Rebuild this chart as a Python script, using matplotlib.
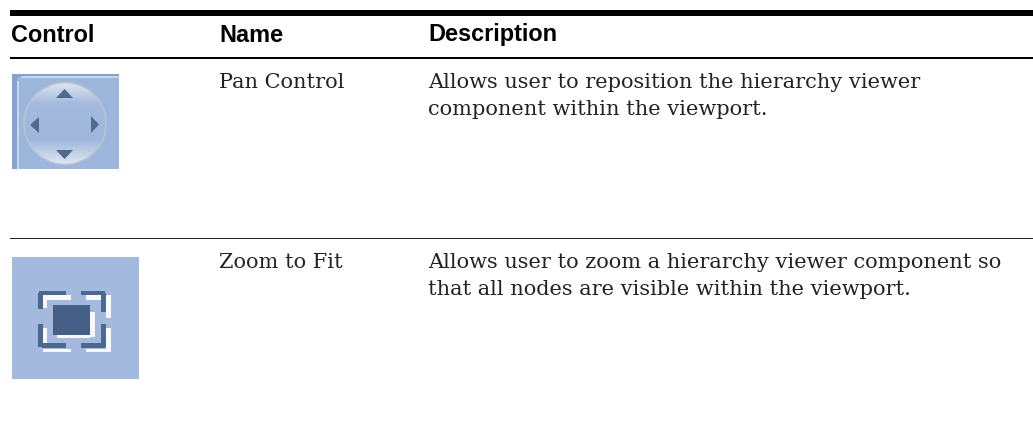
import matplotlib
matplotlib.use('Agg')
import matplotlib.pyplot as plt
import numpy as np
from matplotlib.patches import Circle, Polygon, Rectangle

headers = ['Control', 'Name', 'Description']
names = ['Pan Control', 'Zoom to Fit']
descriptions = [
    ['Allows user to reposition the hierarchy viewer', 'component within the viewport.'],
    ['Allows user to zoom a hierarchy viewer component so', 'that all nodes are visible within the viewport.'],
]

fig = plt.figure(figsize=(10.33, 4.4), dpi=100)
ax = fig.add_axes([0, 0, 1, 1])

# --- rules ---
ax.add_patch(Rectangle((10, 10), 1023, 6, color='black', lw=0))
ax.add_patch(Rectangle((10, 57), 1023, 2, color='black', lw=0))
ax.add_patch(Rectangle((10, 238), 1023, 1.2, color='#222222', lw=0))

# --- text ---
for x, h in zip([11, 219, 428], headers):
    ax.text(x, 41.5, h, family='Liberation Sans', weight='bold', fontsize=16.9,
            color='black', va='baseline')
for y, n, d in zip([88, 268], names, descriptions):
    ax.text(219, y, n, family='DejaVu Serif', fontsize=15, color='#222222', va='baseline')
    ax.text(428, y, d[0], family='DejaVu Serif', fontsize=15, color='#222222', va='baseline')
    ax.text(428, y + 27, d[1], family='DejaVu Serif', fontsize=15, color='#222222', va='baseline')

# --- pan icon ---
ax.add_patch(Rectangle((12, 74), 107, 95, color='#9db6db', lw=0))
ax.add_patch(Rectangle((12, 74), 5, 95, color='#84a3d2', lw=0))
ax.add_patch(Rectangle((12, 74), 107, 3, color='#84a3d2', lw=0))
ax.plot([18, 18], [169, 82], color='#d5e0f0', lw=1.2)
ax.plot([22, 119], [77.5, 77.5], color='#d5e0f0', lw=1.2)
ys = np.linspace(0, 1, 64)
cols = np.zeros((64, 1, 3))
cols[:, 0, 0] = np.interp(ys, [0, 0.25, 0.7, 1], [0.86, 0.64, 0.63, 0.88])
cols[:, 0, 1] = np.interp(ys, [0, 0.25, 0.7, 1], [0.89, 0.73, 0.72, 0.91])
cols[:, 0, 2] = np.interp(ys, [0, 0.25, 0.7, 1], [0.94, 0.87, 0.87, 0.95])
im = ax.imshow(cols, extent=(24, 106, 165, 83), aspect='auto', zorder=2)
clip = Circle((65, 123.5), 41, transform=ax.transData, fc='none', ec='none')
ax.add_patch(clip)
im.set_clip_path(clip)
ax.add_patch(Circle((65, 123.5), 41, fc='none', ec='#b9c3d2', lw=1.2, zorder=3))
arrow = '#4f6a8f'
for pts in ([(56, 98), (73, 98), (64.5, 89)], [(56, 150), (73, 150), (64.5, 159)],
            [(39, 117), (39, 133), (30, 125)], [(91, 116), (91, 133), (99, 124.5)]):
    ax.add_patch(Polygon(pts, fc=arrow, ec='none', zorder=4))

# --- zoom to fit icon ---
ax.add_patch(Rectangle((12, 257), 127, 122, color='#a3bade', lw=0))
dark = '#4c6890'
white = '#f7f9fc'
# white offsets first, then dark brackets
for x, y, w, h in [(43, 295, 28, 5), (86, 295, 15, 5), (43, 295, 4, 13), (106, 295, 5, 23),
                   (43, 328, 4, 15), (106, 328, 5, 22), (43, 349, 28, 3), (86, 349, 25, 3),
                   (57, 335, 33, 3), (90, 312, 5, 25)]:
    ax.add_patch(Rectangle((x, y), w, h, color=white, lw=0, zorder=2))
for x, y, w, h in [(39, 291, 27, 4), (81, 291, 24, 4), (38, 293, 5, 16), (101, 293, 5, 19),
                   (38, 324, 5, 23), (101, 324, 5, 23), (42, 343, 24, 5), (81, 343, 24, 5)]:
    ax.add_patch(Rectangle((x, y), w, h, color=dark, lw=0, zorder=3))
ax.add_patch(Rectangle((53, 305), 37, 30, color='#465f87', lw=0, zorder=3))

ax.set_xlim(0, 1033)
ax.set_ylim(440, 0)
ax.axis('off')

fig.savefig('out.png', dpi=100)
